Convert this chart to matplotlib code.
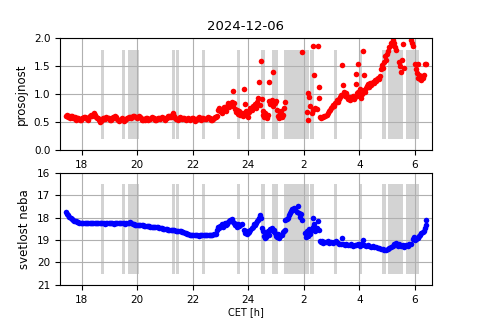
import numpy as np
import matplotlib
matplotlib.use("Agg")
import matplotlib.pyplot as plt

# night of 2024-12-06, CET hours (after midnight = 24 + h)
DATE = "2024-12-06"

# steady early part, regularly sampled
flat_start, flat_end = 17.42, 22.85
top_flat = [0.62, 0.64, 0.60, 0.61, 0.58, 0.62, 0.61, 0.57, 0.57, 0.59,
            0.55, 0.57, 0.58, 0.55, 0.54, 0.57, 0.57, 0.60, 0.60, 0.58,
            0.56, 0.55, 0.59, 0.61, 0.63, 0.61, 0.66, 0.64, 0.60, 0.58,
            0.57, 0.54, 0.50, 0.53, 0.55, 0.57, 0.58, 0.56, 0.60, 0.58,
            0.57, 0.55, 0.55, 0.57, 0.59, 0.58, 0.61, 0.59, 0.56, 0.54,
            0.53, 0.55, 0.57, 0.56, 0.52, 0.55, 0.56, 0.58, 0.58, 0.60,
            0.60, 0.58, 0.59, 0.61, 0.62, 0.60, 0.58, 0.60, 0.61, 0.59,
            0.57, 0.55, 0.54, 0.56, 0.55, 0.57, 0.58, 0.55, 0.56, 0.58,
            0.60, 0.58, 0.57, 0.55, 0.54, 0.56, 0.58, 0.57, 0.56, 0.58,
            0.59, 0.57, 0.55, 0.57, 0.58, 0.62, 0.62, 0.60, 0.60, 0.63,
            0.67, 0.62, 0.57, 0.56, 0.55, 0.57, 0.59, 0.57, 0.56, 0.58,
            0.58, 0.56, 0.54, 0.56, 0.57, 0.56, 0.55, 0.57, 0.58, 0.56,
            0.53, 0.55, 0.56, 0.58, 0.59, 0.57, 0.55, 0.57, 0.58, 0.56,
            0.56, 0.58, 0.60, 0.58, 0.57, 0.55, 0.54, 0.56, 0.57, 0.59,
            0.60]
sky_flat = [17.74, 17.82, 17.90, 17.97, 18.02, 18.06, 18.10, 18.13, 18.16, 18.18,
            18.20, 18.22, 18.23, 18.22, 18.24, 18.26, 18.25, 18.23, 18.23, 18.25,
            18.24, 18.22, 18.22, 18.24, 18.25, 18.23, 18.24, 18.26, 18.26, 18.24,
            18.25, 18.27, 18.24, 18.23, 18.26, 18.25, 18.25, 18.24, 18.27, 18.26,
            18.25, 18.23, 18.24, 18.26, 18.26, 18.24, 18.25, 18.27, 18.23, 18.22,
            18.22, 18.21, 18.25, 18.27, 18.30, 18.31, 18.32, 18.31, 18.33, 18.34,
            18.35, 18.35, 18.36, 18.38, 18.38, 18.37, 18.39, 18.40, 18.40, 18.41,
            18.41, 18.42, 18.42, 18.44, 18.45, 18.47, 18.48, 18.50, 18.51, 18.52,
            18.52, 18.54, 18.54, 18.55, 18.56, 18.57, 18.57, 18.58, 18.59, 18.60,
            18.61, 18.62, 18.63, 18.65, 18.68, 18.70, 18.72, 18.74, 18.76, 18.77,
            18.78, 18.79, 18.78, 18.78, 18.79, 18.80, 18.78, 18.78, 18.77, 18.79,
            18.78, 18.77, 18.78, 18.79, 18.77, 18.76, 18.77, 18.75, 18.74, 18.74]

# scattered later part
top_t = [22.88, 22.92, 22.96, 23.00, 23.04, 23.08, 23.12, 23.16, 23.20, 23.24,
         23.28, 23.32, 23.36, 23.40, 23.44, 23.44, 23.48, 23.52, 23.56, 23.60,
         23.64, 23.68, 23.72, 23.76, 23.80, 23.84, 23.86, 23.88, 23.92, 23.96,
         24.00, 24.04, 24.08, 24.12, 24.16, 24.20, 24.24, 24.28, 24.32, 24.36,
         24.39, 24.42, 24.45, 24.48, 24.52, 24.55, 24.58, 24.62, 24.66, 24.70,
         24.74, 24.76, 24.80, 24.84, 24.88, 24.90, 24.95, 25.00, 25.04, 25.08,
         25.12, 25.15, 25.18, 25.22, 25.26, 25.30, 25.32, 25.94, 26.12, 26.14,
         26.16, 26.20, 26.24, 26.28, 26.32, 26.34, 26.38, 26.42, 26.46, 26.52,
         26.55, 26.56, 26.58, 26.62, 26.66, 26.70, 26.74, 26.78, 26.82, 26.86,
         26.90, 26.94, 26.98, 27.02, 27.06, 27.10, 27.14, 27.18, 27.22, 27.26,
         27.30, 27.34, 27.39, 27.42, 27.44, 27.48, 27.52, 27.56, 27.60, 27.64,
         27.68, 27.72, 27.76, 27.80, 27.84, 27.87, 27.90, 27.92, 27.94, 27.97,
         28.00, 28.04, 28.08, 28.10, 28.14, 28.16, 28.18, 28.20, 28.24, 28.28,
         28.32, 28.36, 28.40, 28.44, 28.48, 28.52, 28.56, 28.60, 28.64, 28.68,
         28.72, 28.76, 28.78, 28.82, 28.86, 28.90, 28.92, 28.96, 29.00, 29.04,
         29.08, 29.14, 29.18, 29.22, 29.25, 29.30, 29.34, 29.43, 29.47, 29.50,
         29.54, 29.58, 29.62, 29.86, 29.90, 29.94, 30.02, 30.05, 30.08, 30.10,
         30.12, 30.15, 30.18, 30.21, 30.24, 30.28, 30.32, 30.36, 30.39]
top_v = [0.62, 0.72, 0.76, 0.70, 0.67, 0.73, 0.78, 0.74, 0.70, 0.80,
         0.84, 0.77, 0.82, 0.86, 1.06, 0.79, 0.84, 0.74, 0.68, 0.72,
         0.65, 0.70, 0.63, 0.67, 0.62, 0.66, 1.09, 0.83, 0.70, 0.64,
         0.60, 0.68, 0.76, 0.72, 0.80, 0.77, 0.83, 0.75, 0.86, 0.93,
         1.23, 0.81, 1.60, 0.92, 0.70, 0.64, 0.60, 0.67, 0.58, 0.63,
         1.23, 0.88, 0.83, 0.90, 0.79, 1.40, 0.85, 0.88, 0.72, 0.62,
         0.58, 0.66, 0.70, 0.60, 0.64, 0.75, 0.87, 1.76, 0.68, 0.54,
         1.02, 0.96, 0.80, 0.67, 0.72, 1.87, 1.35, 0.76, 0.74, 1.87,
         0.93, 1.13, 0.59, 0.58, 0.60, 0.60, 0.62, 0.61, 0.64, 0.66,
         0.70, 0.72, 0.75, 0.78, 0.81, 0.79, 0.84, 0.90, 0.86, 0.92,
         0.96, 0.99, 1.53, 1.17, 1.05, 0.97, 1.03, 0.95, 0.91, 0.96,
         0.90, 0.93, 0.97, 0.91, 0.95, 1.19, 1.37, 1.02, 1.55, 1.05,
         0.98, 1.10, 0.94, 1.00, 1.77, 1.08, 1.35, 1.04, 1.12, 1.15,
         1.18, 1.14, 1.20, 1.17, 1.23, 1.21, 1.26, 1.24, 1.28, 1.30,
         1.27, 1.33, 1.45, 1.52, 1.48, 1.58, 1.68, 1.62, 1.72, 1.77,
         1.84, 1.92, 1.88, 1.98, 1.92, 1.85, 1.80, 1.58, 1.51, 1.40,
         1.62, 1.90, 1.48, 1.97, 1.92, 1.87, 1.55, 1.45, 1.38, 1.55,
         1.30, 1.35, 1.27, 1.32, 1.25, 1.30, 1.35, 1.55, 1.55]

sky_t = [22.88, 22.92, 22.96, 23.00, 23.04, 23.08, 23.12, 23.16, 23.20, 23.24,
         23.28, 23.32, 23.36, 23.40, 23.44, 23.48, 23.52, 23.56, 23.60, 23.64,
         23.68, 23.72, 23.78, 23.84, 23.88, 23.92, 23.96, 24.00, 24.04, 24.08,
         24.12, 24.16, 24.20, 24.24, 24.28, 24.32, 24.36, 24.40, 24.44, 24.47,
         24.50, 24.53, 24.56, 24.60, 24.64, 24.68, 24.72, 24.76, 24.80, 24.84,
         24.88, 24.92, 24.96, 25.00, 25.04, 25.08, 25.12, 25.16, 25.20, 25.24,
         25.28, 25.32, 25.34, 25.38, 25.42, 25.46, 25.50, 25.54, 25.58, 25.62,
         25.66, 25.70, 25.74, 25.78, 25.82, 25.86, 25.90, 25.94, 26.04, 26.08,
         26.12, 26.16, 26.20, 26.24, 26.28, 26.32, 26.34, 26.38, 26.42, 26.46,
         26.50, 26.54, 26.58, 26.62, 26.66, 26.70, 26.74, 26.80, 26.86, 26.92,
         26.98, 27.04, 27.10, 27.16, 27.22, 27.28, 27.34, 27.38, 27.42, 27.48,
         27.54, 27.60, 27.66, 27.72, 27.78, 27.84, 27.90, 27.96, 28.02, 28.08,
         28.14, 28.18, 28.24, 28.30, 28.36, 28.42, 28.48, 28.54, 28.60, 28.66,
         28.72, 28.78, 28.84, 28.90, 28.96, 29.02, 29.08, 29.14, 29.20, 29.26,
         29.32, 29.38, 29.44, 29.50, 29.56, 29.62, 29.68, 29.74, 29.80, 29.86,
         29.92, 29.96, 30.00, 30.04, 30.08, 30.12, 30.16, 30.20, 30.24, 30.28,
         30.32, 30.36, 30.39, 30.42]
sky_v = [18.55, 18.40, 18.45, 18.38, 18.30, 18.40, 18.35, 18.25, 18.32, 18.28,
         18.20, 18.15, 18.10, 18.08, 18.18, 18.25, 18.33, 18.28, 18.40, 18.30,
         18.36, 18.32, 18.30, 18.55, 18.68, 18.62, 18.75, 18.70, 18.66, 18.55,
         18.48, 18.40, 18.28, 18.35, 18.22, 18.15, 18.10, 18.02, 17.88, 18.02,
         18.48, 18.62, 18.80, 18.90, 18.85, 18.72, 18.58, 18.78, 18.50, 18.47,
         18.62, 18.55, 18.70, 18.80, 18.88, 18.75, 18.92, 18.82, 18.78, 18.65,
         18.58, 18.55, 18.10, 18.05, 18.02, 17.90, 17.81, 17.70, 17.60, 17.65,
         17.58, 17.62, 17.74, 17.47, 17.80, 17.96, 17.85, 18.10, 18.70, 18.88,
         18.62, 18.80, 18.50, 18.72, 18.55, 18.40, 18.03, 18.30, 18.60, 18.45,
         18.15, 18.55, 19.04, 19.10, 19.06, 19.12, 19.08, 19.10, 19.05, 19.12,
         19.08, 19.14, 19.10, 19.06, 19.12, 19.16, 19.20, 18.92, 19.18, 19.22,
         19.20, 19.24, 19.22, 19.20, 19.26, 19.24, 19.22, 19.20, 19.25, 19.18,
         19.00, 19.22, 19.26, 19.24, 19.28, 19.30, 19.28, 19.32, 19.30, 19.34,
         19.36, 19.38, 19.42, 19.46, 19.45, 19.40, 19.34, 19.32, 19.26, 19.20,
         19.14, 19.25, 19.18, 19.28, 19.24, 19.30, 19.22, 19.25, 19.20, 19.18,
         18.95, 18.85, 19.00, 18.95, 18.92, 18.90, 18.84, 18.78, 18.70, 18.66,
         18.60, 18.45, 18.33, 18.10]

# cloud flags (grey bands)
clouds = [(18.71, 18.82), (19.45, 19.55), (19.67, 20.07), (21.25, 21.36),
          (21.39, 21.50), (22.35, 22.46), (23.58, 23.69), (24.45, 24.62),
          (24.85, 25.09), (25.28, 26.18), (26.21, 26.37), (27.08, 27.20),
          (28.00, 28.10), (28.83, 28.98), (29.05, 29.56), (29.67, 30.15)]

ticks = [18, 20, 22, 24, 26, 28, 30]
tick_labels = ["18", "20", "22", "24", "2", "4", "6"]
sky_ticks = [16, 17, 18, 19, 20, 21]


def draw_clouds(ax):
    for a, b in clouds:
        ax.axvspan(a, b, ymin=0.1, ymax=0.9, color="lightgray", lw=0)


fig, (ax1, ax2) = plt.subplots(2, 1, figsize=(4.8, 3.2), dpi=100)

t_top = np.linspace(flat_start, flat_end, len(top_flat))
t_sky = np.linspace(flat_start, flat_end, len(sky_flat))

draw_clouds(ax1)
ax1.plot(np.concatenate([t_top, top_t]), np.concatenate([top_flat, top_v]),
         "o", color="red", ms=4, mew=0)
ax1.set_ylim(0, 2)
ax1.set_ylabel("prosojnost", fontsize=8.5)
ax1.set_title(DATE, fontsize=9.5)

draw_clouds(ax2)
ax2.plot(np.concatenate([t_sky, sky_t]), np.concatenate([sky_flat, sky_v]),
         "o", color="blue", ms=4, mew=0)
ax2.set_ylim(21, 16)
ax2.set_yticks(sky_ticks)
ax2.set_ylabel("svetlost neba", fontsize=8.5)
ax2.set_xlabel("CET [h]", fontsize=7, labelpad=2)

for ax in (ax1, ax2):
    ax.set_xlim(17.22, 30.62)
    ax.set_xticks(ticks)
    ax.set_xticklabels(tick_labels)
    ax.tick_params(labelsize=7.5)
    ax.grid(True)

fig.savefig("out.png")
